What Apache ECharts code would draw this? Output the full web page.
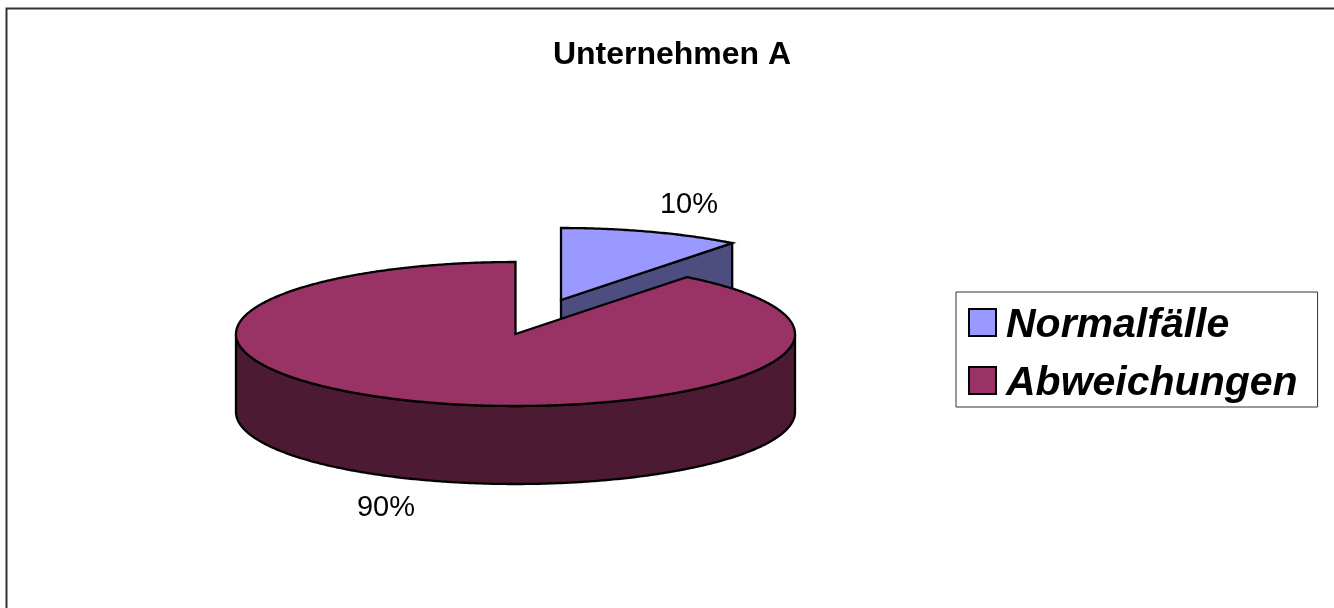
<!DOCTYPE html>
<html>
<head>
<meta charset="utf-8">
<title>Unternehmen A</title>
<script src="https://cdn.jsdelivr.net/npm/echarts@6/dist/echarts.min.js"></script>
<style>
    html, body { margin: 0; padding: 0; background: #fff; }
    #chart { width: 1334px; height: 608px; }
</style>
</head>
<body>
<div id="chart"></div>
<script>
const categories = ['Normalfälle', 'Abweichungen']
// the labels round them to whole percents
const shares = [10.49, 89.51]
const topColors = ['#9999ff', '#993366']
const sideColors = ['#4d4d80', '#4d1a33']

const FONT = '"Liberation Sans", Arial, sans-serif'
// pie layout in pixels
const center = [515.5, 334]
const rx = 279.5
const ry = 72
const depth = 78
const explode = [45.5, -34] // offset of the first slice
const labelPos = [[689, 205], [386, 508]]

const total = shares.reduce((a, b) => a + b, 0)

// angle in degrees, clockwise from 12 o'clock
function rimPoint(cx, cy, deg) {
    const t = deg * Math.PI / 180
    return [cx + rx * Math.sin(t), cy - ry * Math.cos(t)]
}

function arcPoints(cx, cy, from, to) {
    const pts = []
    for (let a = from; a < to; a += 0.5) {
        pts.push(rimPoint(cx, cy, a))
    }
    pts.push(rimPoint(cx, cy, to))
    return pts
}

function sliceRender(index, startDeg) {
    return function (params, api) {
        const sweep = api.value(0) / total * 360
        const endDeg = startDeg + sweep
        const off = index === 0 ? explode : [0, 0]
        const cx = center[0] + off[0]
        const cy = center[1] + off[1]
        const stroke = { stroke: '#000', lineWidth: 2.3, lineJoin: 'miter' }
        const children = []

        // wall under the slice
        if (index === 0) {
            const e = rimPoint(cx, cy, endDeg)
            children.push({
                type: 'polygon',
                shape: { points: [[cx, cy], e, [e[0], e[1] + depth], [cx, cy + depth]] },
                style: { fill: sideColors[index], ...stroke }
            })
        } else {
            const front = arcPoints(cx, cy, 90, 270)
            const lower = front.map(p => [p[0], p[1] + depth]).reverse()
            children.push({
                type: 'polygon',
                shape: { points: front.concat(lower) },
                style: { fill: sideColors[index], ...stroke }
            })
        }

        // top face
        children.push({
            type: 'polygon',
            shape: { points: [[cx, cy]].concat(arcPoints(cx, cy, startDeg, endDeg)) },
            style: { fill: topColors[index], ...stroke }
        })

        children.push({
            type: 'text',
            style: {
                x: labelPos[index][0],
                y: labelPos[index][1],
                text: Math.round(api.value(0)) + '%',
                fill: '#000',
                font: '29px ' + FONT,
                textAlign: 'center',
                textVerticalAlign: 'middle'
            }
        })
        return { type: 'group', children }
    }
}

const chart = echarts.init(document.getElementById('chart'))
chart.setOption({
    animation: false,
    backgroundColor: '#fff',
    title: {
        text: 'Unternehmen A',
        left: 667,
        top: 34,
        textAlign: 'center',
        textStyle: { fontFamily: FONT, fontSize: 32, fontWeight: 'bold', color: '#000' }
    },
    legend: {
        left: 956,
        top: 292,
        orient: 'vertical',
        padding: [13, 20, 3, 12],
        itemGap: 17,
        itemWidth: 27,
        itemHeight: 27,
        backgroundColor: '#fff',
        borderColor: '#333',
        borderWidth: 1,
        data: categories.map((name, i) => ({
            name,
            icon: 'rect',
            itemStyle: { color: topColors[i], borderColor: '#000', borderWidth: 2 }
        })),
        formatter: '{t|{name}}',
        textStyle: {
            rich: {
                t: {
                    fontFamily: FONT,
                    fontSize: 41,
                    fontWeight: 'bold',
                    fontStyle: 'italic',
                    color: '#000',
                    padding: [6, 0, 0, 5]
                }
            }
        }
    },
    graphic: [{
        type: 'polyline',
        shape: { points: [[6.5, 608], [6.5, 8.5], [1334, 8.5]] },
        style: { stroke: '#333', lineWidth: 2, fill: null }
    }],
    series: categories.map((name, i) => ({
        type: 'custom',
        name,
        coordinateSystem: 'none',
        itemStyle: { color: topColors[i] },
        data: [[shares[i]]],
        encode: { value: 0 },
        renderItem: sliceRender(i, i === 0 ? 0 : shares[0] / total * 360)
    }))
})
</script>
</body>
</html>
